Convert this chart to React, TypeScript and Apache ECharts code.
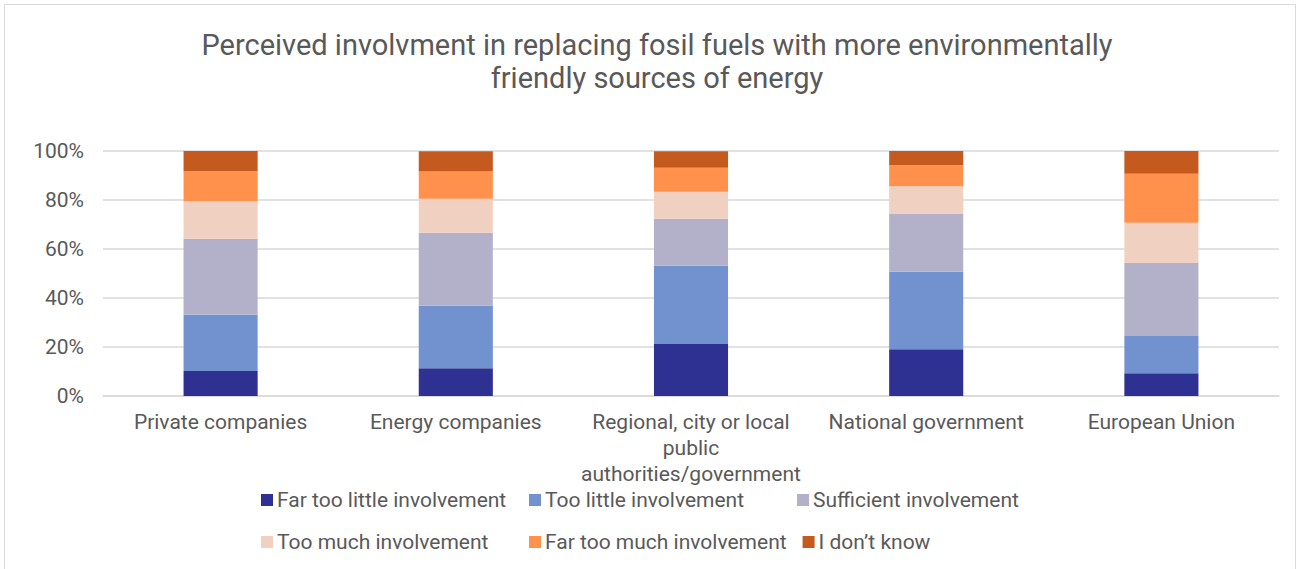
import React, { useEffect, useRef } from "react";
import * as echarts from "echarts";

// Institutions rated by respondents
const categories = [
  "Private companies",
  "Energy companies",
  "Regional, city or local\npublic\nauthorities/government",
  "National government",
  "European Union",
];

// Share of answers per institution (%), bottom to top of each stack
const farTooLittle = [10.2, 11.3, 21.2, 19.1, 9.3];
const tooLittle = [23.1, 25.5, 32.0, 31.6, 15.2];
const sufficient = [30.9, 29.8, 19.1, 23.8, 29.8];
const tooMuch = [15.3, 13.9, 11.1, 11.1, 16.4];
const farTooMuch = [12.2, 11.1, 9.8, 8.6, 20.0];
const dontKnow = [8.3, 8.3, 6.7, 5.9, 9.3];

const seriesNames = [
  "Far too little involvement",
  "Too little involvement",
  "Sufficient involvement",
  "Too much involvement",
  "Far too much involvement",
  "I don\u2019t know",
];
const seriesValues = [farTooLittle, tooLittle, sufficient, tooMuch, farTooMuch, dontKnow];
const seriesColors = ["#2e3092", "#7292cf", "#b2b1c9", "#f0d1c1", "#ff914d", "#c55a1f"];

const yTicks = [0, 20, 40, 60, 80, 100];

const TEXT = "#595959";
const FONT = "Roboto";

export default function App() {
  const ref = useRef<HTMLDivElement>(null);

  useEffect(() => {
    if (!ref.current) return;
    const chart = echarts.init(ref.current, null, { renderer: "svg" });
    chart.setOption({
      animation: false,
      backgroundColor: "#ffffff",
      title: {
        text: "Perceived involvment in replacing fosil fuels with more environmentally\nfriendly sources of energy",
        left: 652,
        top: 23,
        textAlign: "center",
        textStyle: {
          fontFamily: FONT,
          fontSize: 29,
          fontWeight: "normal",
          color: TEXT,
          lineHeight: 33,
        },
      },
      graphic: [
        {
          type: "rect",
          shape: { x: 4.5, y: 4.5, width: 1291, height: 620 },
          style: { fill: "none", stroke: "#d9d9d9", lineWidth: 1 },
          silent: true,
        },
      ],
      legend: {
        data: seriesNames,
        left: 256,
        top: 482,
        width: 820,
        itemWidth: 12,
        itemHeight: 12,
        itemGap: 16,
        icon: "rect",
        textStyle: {
          fontFamily: FONT,
          fontSize: 21,
          color: TEXT,
          width: 236,
          lineHeight: 26,
          padding: [0, 0, 0, -1],
        },
      },
      grid: {
        left: 103,
        right: 21,
        top: 151,
        bottom: 173,
        containLabel: false,
      },
      xAxis: {
        type: "category",
        data: categories,
        axisLine: { show: true, lineStyle: { color: "#d9d9d9", width: 1.5 } },
        axisTick: { show: false },
        axisLabel: {
          fontFamily: FONT,
          fontSize: 21,
          color: TEXT,
          lineHeight: 26,
          margin: 13,
          interval: 0,
        },
      },
      yAxis: {
        type: "value",
        min: yTicks[0],
        max: yTicks[yTicks.length - 1],
        interval: yTicks[1] - yTicks[0],
        axisLine: { show: false },
        axisTick: { show: false },
        splitLine: { lineStyle: { color: "#d9d9d9", width: 1.5 } },
        axisLabel: {
          fontFamily: FONT,
          fontSize: 21,
          color: TEXT,
          margin: 19,
          formatter: "{value}%",
        },
      },
      series: seriesNames.map((name, i) => ({
        name,
        type: "bar",
        stack: "total",
        barWidth: "31.5%",
        data: seriesValues[i],
        itemStyle: { color: seriesColors[i] },
      })),
    });
    return () => chart.dispose();
  }, []);

  return (
    <div
      ref={ref}
      style={{ position: "absolute", left: 0, top: 0, width: 1300, height: 569 }}
    />
  );
}
